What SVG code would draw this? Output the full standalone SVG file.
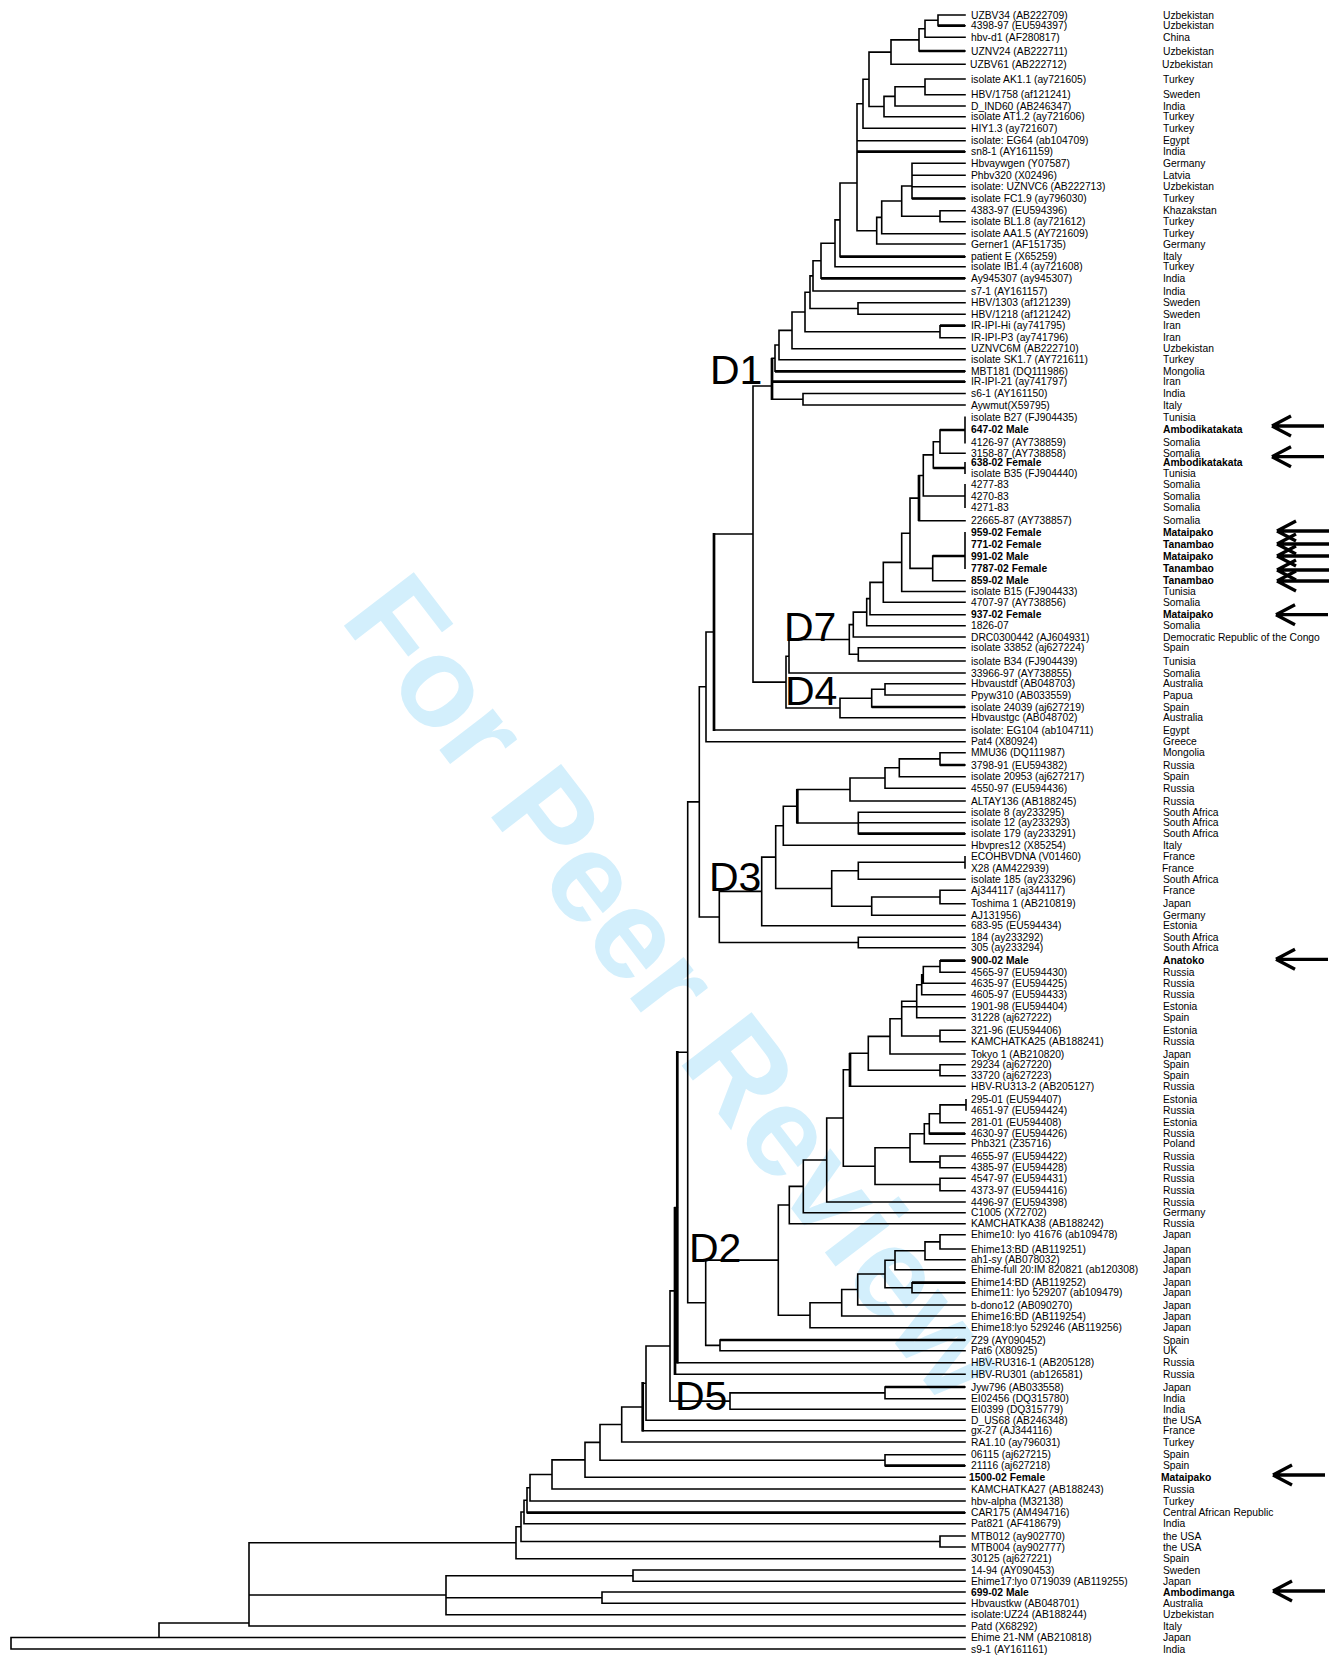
<svg xmlns="http://www.w3.org/2000/svg" xmlns:xlink="http://www.w3.org/1999/xlink" width="1342" height="1663" viewBox="0 0 1342 1663">
<style>
.t{font-family:"Liberation Sans",Arial,sans-serif;font-size:10.3px;fill:#000}
.b{font-weight:bold}
.cl{font-family:"Liberation Sans",Arial,sans-serif;font-size:41px;fill:#000}
.wm{font-family:"Liberation Sans",Arial,sans-serif;font-size:128px;font-weight:bold;fill:#d3effc}
.ln{fill:none;stroke:#000;stroke-width:1.6;stroke-linecap:square}
.tk{fill:none;stroke:#000;stroke-width:2.7;stroke-linecap:butt}
.ar{fill:none;stroke:#000;stroke-width:3.3}
</style>
<defs>
<path id="arr" d="M0 0L19 -10M0 0L19 10M0 0H52"/>
</defs>
<rect width="1342" height="1663" fill="#fff"/>
<text class="wm" text-anchor="middle" transform="translate(642,1014) rotate(52.5)">For Peer Review</text>
<g id="connectors">
<path class="ln" d="M938 15V25.7M938 15H965M938 25.7H965
M925 20.3V37.3M925 20.3H938M925 37.3H965
M919 28.8V51M919 28.8H925M919 51H965
M891 39.9V64.3M891 39.9H919M891 64.3H965
M925 79V94.7M925 79H965M925 94.7H965
M895 86.8V106M895 86.8H925M895 106H965
M884 96.4V116.7M884 96.4H895M884 116.7H965
M869 52.1V106.5M869 52.1H891M869 106.5H884
M863 79.3V128.3M863 79.3H869M863 128.3H965
M912 163.3V198.5M912 163.3H965M912 175.3H965M912 186.7H965M912 198.5H965
M940 210.7V221.7M940 210.7H965M940 221.7H965
M901.7 186V216.2M901.7 186H912M901.7 216.2H940
M881.7 201V233.7M881.7 201H901.7M881.7 233.7H965
M876.7 217.4V244M876.7 217.4H881.7M876.7 244H965
M857 103.8V230.7M857 103.8H863M857 140.7H965M857 151.7H965M857 230.7H876.7
M840 183V256.7M840 183H857M840 256.7H965
M835 219.9V266.7M835 219.9H840M835 266.7H965
M821 243.3V278.3M821 243.3H835M821 278.3H965
M813 260.8V291M813 260.8H821M813 291H965
M858 302.7V314.3M858 302.7H965M858 314.3H965
M810 275.9V308.5M810 275.9H813M810 308.5H858
M940 325.7V337.7M940 325.7H965M940 337.7H965
M805 292.2V331.7M805 292.2H810M805 331.7H940
M792 312V348.7M792 312H805M792 348.7H965
M779 330.4V359.7M779 330.4H792M779 359.7H965
M775 345V371.3M775 345H779M775 371.3H965
M803 393.5V405M803 393.5H965M803 405H965
M772 358.2V399.3M772 358.2H775M772 381.7H965M772 399.3H803
M753 386V682.1M753 386H772M753 682.1H786
M965 417.3V442.7M940 430H965
M940 430V453.3M940 453.3H965
M933.3 441.7V468M933.3 441.7H940M933.3 468H965M965 462.7V473.3
M965 484.7V507.3
M923.3 454.9V496M923.3 454.9H933.3M923.3 496H965
M919 475.5V520.7M919 475.5H923.3M919 520.7H965
M965 532.7V568.3
M932.7 556V580.7M932.7 556H965M932.7 580.7H965
M910 498.1V568.4M910 498.1H919M910 568.4H932.7
M901.7 533.2V591.5M901.7 533.2H910M901.7 591.5H965
M883.3 562.4V602.3M883.3 562.4H901.7M883.3 602.3H965
M870 582.4V614.7M870 582.4H883.3M870 614.7H965
M866.7 598.6V625.7M866.7 598.6H870M866.7 625.7H965
M853.3 612.1V637M853.3 612.1H866.7M853.3 637H965
M858.3 647.7V661M858.3 647.7H965M858.3 661H965
M849.3 624.6V654.3M849.3 624.6H853.3M849.3 654.3H858.3
M789 639.5V673M789 639.5H849.3M789 673H965
M885 683.7V695M885 683.7H965M885 695H965
M871.7 689.3V707M871.7 689.3H885M871.7 707H965
M840 698.2V717.7M840 698.2H871.7M840 717.7H965
M786 656.2V708M786 656.2H789M786 708H840
M714 534V730M714 534H753M714 730H965
M706 632V741.7M706 632H714M706 741.7H965
M940 752.7V765M940 752.7H965M940 765H965
M899.3 758.9V776.7M899.3 758.9H940M899.3 776.7H965
M885 767.8V788.3M885 767.8H899.3M885 788.3H965
M850 778V801M850 778H885M850 801H965
M858.3 812.3V833.7M858.3 812.3H965M858.3 822.7H965M858.3 833.7H965
M797.3 789.5V823M797.3 789.5H850M797.3 823H858.3
M783.3 806.2V845.3M783.3 806.2H797.3M783.3 845.3H965
M965 856.7V868M858.3 862.3H965
M858.3 862.3V879.3M858.3 879.3H965
M940 890.3V903.7M940 890.3H965M940 903.7H965
M871.7 897V915.3M871.7 897H940M871.7 915.3H965
M831.7 870.8V906.2M831.7 870.8H858.3M831.7 906.2H871.7
M775.7 825.8V888.5M775.7 825.8H783.3M775.7 888.5H831.7
M761.7 857.1V925.7M761.7 857.1H775.7M761.7 925.7H965
M858.3 937.3V947.7M858.3 937.3H965M858.3 947.7H965
M719.3 891.4V942.5M719.3 891.4H761.7M719.3 942.5H858.3
M699.3 686.8V917M699.3 686.8H706M699.3 917H719.3
M940 960.7V972.3M940 960.7H965M940 972.3H965
M923.3 966.5V983.3M923.3 966.5H940M923.3 983.3H965
M921.7 974.9V994.7M921.7 974.9H923.3M921.7 994.7H965
M916.7 984.8V1017.7M916.7 984.8H921.7M916.7 1017.7H965
M940 1030.3V1041.7M940 1030.3H965M940 1041.7H965
M901.7 1001.3V1036M901.7 1001.3H916.7M901.7 1006.7H965M901.7 1036H940
M890 1018.7V1054M890 1018.7H901.7M890 1054H965
M940 1064.7V1075.7M940 1064.7H965M940 1075.7H965
M868.3 1036.4V1070.2M868.3 1036.4H890M868.3 1070.2H940
M850 1053.3V1086.3M850 1053.3H868.3M850 1086.3H965
M966 1099.7V1110M940 1104.9H966
M940 1104.9V1122.7M940 1122.7H965
M929.3 1113.8V1133.7M929.3 1113.8H940M929.3 1133.7H965
M924.3 1123.8V1143.7M924.3 1123.8H929.3M924.3 1143.7H965
M940 1156V1167.7M940 1156H965M940 1167.7H965
M910 1133.8V1161.9M910 1133.8H924.3M910 1161.9H940
M940 1178.3V1190.7M940 1178.3H965M940 1190.7H965
M875 1147.8V1184.5M875 1147.8H910M875 1184.5H940
M843.3 1069.8V1166.2M843.3 1069.8H850M843.3 1166.2H875
M826.7 1118V1202M826.7 1118H843.3M826.7 1202H965
M803.3 1160V1212.7M803.3 1160H826.7M803.3 1212.7H965
M789.3 1186.4V1223.7M789.3 1186.4H803.3M789.3 1223.7H965
M940 1234.7V1249M940 1234.7H965M940 1249H965
M925 1241.9V1259.7M925 1241.9H940M925 1259.7H965
M895 1250.8V1269.7M895 1250.8H925M895 1269.7H965
M912 1282.7V1292.7M912 1282.7H965M912 1292.7H965
M885 1260.3V1287.7M885 1260.3H895M885 1287.7H912
M857.7 1274V1305M857.7 1274H885M857.7 1305H965
M841.7 1289.5V1316M841.7 1289.5H857.7M841.7 1316H965
M810 1302.8V1327.7M810 1302.8H841.7M810 1327.7H965
M778.3 1205V1315.2M778.3 1205H789.3M778.3 1315.2H810
M720 1340V1350.7M720 1340H965M720 1350.7H965
M705.7 1260.1V1345.4M705.7 1260.1H778.3M705.7 1345.4H720
M687.7 801.9V1302.8M687.7 801.9H699.3M687.7 1302.8H705.7
M677.3 1052.3H687.7M677.3 1362.7H965
M675 1207.5H677.3M675 1374.3H965
M885 1387V1398.7M885 1387H965M885 1398.7H965
M730 1392.9V1409.3M730 1392.9H885M730 1409.3H965
M670 1290.9V1401.1M670 1290.9H675M670 1401.1H730
M646 1346V1420.3M646 1346H670M646 1420.3H965
M642.7 1383.2H646M642.7 1430.7H965
M621.7 1407V1442M621.7 1407H642.7M621.7 1442H965
M885 1454.7V1465.7M885 1454.7H965M885 1465.7H965
M600 1424.5V1460.2M600 1424.5H621.7M600 1460.2H885
M585 1442.4V1477.3M585 1442.4H600M585 1477.3H965
M552 1459.9V1489M552 1459.9H585M552 1489H965
M530 1474.5V1501M530 1474.5H552M530 1501H965
M527 1487.8V1512.7M527 1487.8H530M527 1512.7H965
M524 1500.3V1523.7M524 1500.3H527M524 1523.7H965
M940 1536V1547M940 1536H965M940 1547H965
M521 1512V1541.5M521 1512H524M521 1541.5H940
M516 1526.8V1558.7M516 1526.8H521M516 1558.7H965
M633 1570V1581.3M633 1570H965M633 1581.3H965
M602 1592V1603.3M602 1592H965M602 1603.3H965
M446 1575.7V1614.7M446 1575.7H633M446 1597.7H602M446 1614.7H965
M249 1542.8V1626M249 1542.8H516M249 1595H446M249 1626H965
M159 1623V1637.5M159 1623H249M159 1637.5H965
M11 1637.5V1649M11 1637.5H159M11 1649H965"/>
<path class="tk" d="M919 51H965M938 25.7H965M912 198.5H965M857 151.7H965M840 256.7H965M821 278.3H965M940 325.7H965M775 371.3H965M772 381.7H965M772 358V400M940 430H965M933.3 468H965M932.7 556H965M871.7 707H965M858.3 833.7H965M940 765H965M797.3 789V823.5M940 960.7H965M929.3 1133.7H965M912 1282.7H965M720 1340H965M885 1465.7H965M527 1512.7H965M885 1387H965M714 533V731M677.3 1051V1363.5M675 1207V1375M642.7 1382V1431.5M850 1053V1087M919 475V521"/>
</g>
<g id="clades">
<text class="cl" x="710" y="384">D1</text>
<text class="cl" x="784" y="641">D7</text>
<text class="cl" x="785" y="705">D4</text>
<text class="cl" x="709" y="891">D3</text>
<text class="cl" x="689" y="1262">D2</text>
<text class="cl" x="675" y="1410">D5</text>
</g>
<g id="arrows" class="ar">
<use xlink:href="#arr" transform="translate(1272,426)"/>
<use xlink:href="#arr" transform="translate(1272,456.7)"/>
<use xlink:href="#arr" transform="translate(1277,531)"/>
<use xlink:href="#arr" transform="translate(1277,544)"/>
<use xlink:href="#arr" transform="translate(1277,556)"/>
<use xlink:href="#arr" transform="translate(1277,570)"/>
<use xlink:href="#arr" transform="translate(1277,581)"/>
<use xlink:href="#arr" transform="translate(1276,614.7)"/>
<use xlink:href="#arr" transform="translate(1276,959.3)"/>
<use xlink:href="#arr" transform="translate(1273,1475)"/>
<use xlink:href="#arr" transform="translate(1273,1591)"/>
</g>
<g id="leaves" class="t">
<g id="leaf1"><text x="971" y="18.6">UZBV34 (AB222709)</text><text x="1163" y="18.6">Uzbekistan</text></g>
<g id="leaf2"><text x="971" y="29.3">4398-97 (EU594397)</text><text x="1163" y="29.3">Uzbekistan</text></g>
<g id="leaf3"><text x="971" y="40.9">hbv-d1 (AF280817)</text><text x="1163" y="40.9">China</text></g>
<g id="leaf4"><text x="971" y="54.6">UZNV24 (AB222711)</text><text x="1163" y="54.6">Uzbekistan</text></g>
<g id="leaf5"><text x="970" y="67.9">UZBV61 (AB222712)</text><text x="1162" y="67.9">Uzbekistan</text></g>
<g id="leaf6"><text x="971" y="82.6">isolate AK1.1 (ay721605)</text><text x="1163" y="82.6">Turkey</text></g>
<g id="leaf7"><text x="971" y="98.3">HBV/1758 (af121241)</text><text x="1163" y="98.3">Sweden</text></g>
<g id="leaf8"><text x="971" y="109.6">D_IND60 (AB246347)</text><text x="1163" y="109.6">India</text></g>
<g id="leaf9"><text x="971" y="120.3">isolate AT1.2 (ay721606)</text><text x="1163" y="120.3">Turkey</text></g>
<g id="leaf10"><text x="971" y="131.9">HIY1.3 (ay721607)</text><text x="1163" y="131.9">Turkey</text></g>
<g id="leaf11"><text x="971" y="144.3">isolate: EG64 (ab104709)</text><text x="1163" y="144.3">Egypt</text></g>
<g id="leaf12"><text x="971" y="155.3">sn8-1 (AY161159)</text><text x="1163" y="155.3">India</text></g>
<g id="leaf13"><text x="971" y="166.9">Hbvaywgen (Y07587)</text><text x="1163" y="166.9">Germany</text></g>
<g id="leaf14"><text x="971" y="178.9">Phbv320 (X02496)</text><text x="1163" y="178.9">Latvia</text></g>
<g id="leaf15"><text x="971" y="190.3">isolate: UZNVC6 (AB222713)</text><text x="1163" y="190.3">Uzbekistan</text></g>
<g id="leaf16"><text x="971" y="202.1">isolate FC1.9 (ay796030)</text><text x="1163" y="202.1">Turkey</text></g>
<g id="leaf17"><text x="971" y="214.3">4383-97 (EU594396)</text><text x="1163" y="214.3">Khazakstan</text></g>
<g id="leaf18"><text x="971" y="225.3">isolate BL1.8 (ay721612)</text><text x="1163" y="225.3">Turkey</text></g>
<g id="leaf19"><text x="971" y="237.3">isolate AA1.5 (AY721609)</text><text x="1163" y="237.3">Turkey</text></g>
<g id="leaf20"><text x="971" y="247.6">Gerner1 (AF151735)</text><text x="1163" y="247.6">Germany</text></g>
<g id="leaf21"><text x="971" y="260.3">patient E (X65259)</text><text x="1163" y="260.3">Italy</text></g>
<g id="leaf22"><text x="971" y="270.3">isolate IB1.4 (ay721608)</text><text x="1163" y="270.3">Turkey</text></g>
<g id="leaf23"><text x="971" y="281.9">Ay945307 (ay945307)</text><text x="1163" y="281.9">India</text></g>
<g id="leaf24"><text x="971" y="294.6">s7-1 (AY161157)</text><text x="1163" y="294.6">India</text></g>
<g id="leaf25"><text x="971" y="306.3">HBV/1303 (af121239)</text><text x="1163" y="306.3">Sweden</text></g>
<g id="leaf26"><text x="971" y="317.9">HBV/1218 (af121242)</text><text x="1163" y="317.9">Sweden</text></g>
<g id="leaf27"><text x="971" y="329.3">IR-IPI-Hi (ay741795)</text><text x="1163" y="329.3">Iran</text></g>
<g id="leaf28"><text x="971" y="341.3">IR-IPI-P3 (ay741796)</text><text x="1163" y="341.3">Iran</text></g>
<g id="leaf29"><text x="971" y="352.3">UZNVC6M (AB222710)</text><text x="1163" y="352.3">Uzbekistan</text></g>
<g id="leaf30"><text x="971" y="363.3">isolate SK1.7 (AY721611)</text><text x="1163" y="363.3">Turkey</text></g>
<g id="leaf31"><text x="971" y="374.9">MBT181 (DQ111986)</text><text x="1163" y="374.9">Mongolia</text></g>
<g id="leaf32"><text x="971" y="385.3">IR-IPI-21 (ay741797)</text><text x="1163" y="385.3">Iran</text></g>
<g id="leaf33"><text x="971" y="397.1">s6-1 (AY161150)</text><text x="1163" y="397.1">India</text></g>
<g id="leaf34"><text x="971" y="408.6">Aywmut(X59795)</text><text x="1163" y="408.6">Italy</text></g>
<g id="leaf35"><text x="971" y="420.9">isolate B27 (FJ904435)</text><text x="1163" y="420.9">Tunisia</text></g>
<g id="leaf36" class="b"><text x="971" y="432.9">647-02 Male</text><text x="1163" y="432.9">Ambodikatakata</text></g>
<g id="leaf37"><text x="971" y="446.3">4126-97 (AY738859)</text><text x="1163" y="446.3">Somalia</text></g>
<g id="leaf38"><text x="971" y="456.9">3158-87 (AY738858)</text><text x="1163" y="456.9">Somalia</text></g>
<g id="leaf39" class="b"><text x="971" y="466.3">638-02 Female</text><text x="1163" y="466.3">Ambodikatakata</text></g>
<g id="leaf40"><text x="971" y="476.9">isolate B35 (FJ904440)</text><text x="1163" y="476.9">Tunisia</text></g>
<g id="leaf41"><text x="971" y="488.3">4277-83</text><text x="1163" y="488.3">Somalia</text></g>
<g id="leaf42"><text x="971" y="499.6">4270-83</text><text x="1163" y="499.6">Somalia</text></g>
<g id="leaf43"><text x="971" y="510.9">4271-83</text><text x="1163" y="510.9">Somalia</text></g>
<g id="leaf44"><text x="971" y="524.3">22665-87 (AY738857)</text><text x="1163" y="524.3">Somalia</text></g>
<g id="leaf45" class="b"><text x="971" y="536.3">959-02 Female</text><text x="1163" y="536.3">Mataipako</text></g>
<g id="leaf46" class="b"><text x="971" y="548.3">771-02 Female</text><text x="1163" y="548.3">Tanambao</text></g>
<g id="leaf47" class="b"><text x="971" y="559.6">991-02 Male</text><text x="1163" y="559.6">Mataipako</text></g>
<g id="leaf48" class="b"><text x="971" y="571.9">7787-02 Female</text><text x="1163" y="571.9">Tanambao</text></g>
<g id="leaf49" class="b"><text x="971" y="584.3">859-02 Male</text><text x="1163" y="584.3">Tanambao</text></g>
<g id="leaf50"><text x="971" y="595.1">isolate B15 (FJ904433)</text><text x="1163" y="595.1">Tunisia</text></g>
<g id="leaf51"><text x="971" y="605.9">4707-97 (AY738856)</text><text x="1163" y="605.9">Somalia</text></g>
<g id="leaf52" class="b"><text x="971" y="618.3">937-02 Female</text><text x="1163" y="618.3">Mataipako</text></g>
<g id="leaf53"><text x="971" y="629.3">1826-07</text><text x="1163" y="629.3">Somalia</text></g>
<g id="leaf54"><text x="971" y="640.6">DRC0300442 (AJ604931)</text><text x="1163" y="640.6">Democratic Republic of the Congo</text></g>
<g id="leaf55"><text x="971" y="651.3">isolate 33852 (aj627224)</text><text x="1163" y="651.3">Spain</text></g>
<g id="leaf56"><text x="971" y="664.6">isolate B34 (FJ904439)</text><text x="1163" y="664.6">Tunisia</text></g>
<g id="leaf57"><text x="971" y="676.6">33966-97 (AY738855)</text><text x="1163" y="676.6">Somalia</text></g>
<g id="leaf58"><text x="971" y="687.3">Hbvaustdf (AB048703)</text><text x="1163" y="687.3">Australia</text></g>
<g id="leaf59"><text x="971" y="698.6">Ppyw310 (AB033559)</text><text x="1163" y="698.6">Papua</text></g>
<g id="leaf60"><text x="971" y="710.6">isolate 24039 (aj627219)</text><text x="1163" y="710.6">Spain</text></g>
<g id="leaf61"><text x="971" y="721.3">Hbvaustgc (AB048702)</text><text x="1163" y="721.3">Australia</text></g>
<g id="leaf62"><text x="971" y="733.6">isolate: EG104 (ab104711)</text><text x="1163" y="733.6">Egypt</text></g>
<g id="leaf63"><text x="971" y="745.3">Pat4 (X80924)</text><text x="1163" y="745.3">Greece</text></g>
<g id="leaf64"><text x="971" y="756.3">MMU36 (DQ111987)</text><text x="1163" y="756.3">Mongolia</text></g>
<g id="leaf65"><text x="971" y="768.6">3798-91 (EU594382)</text><text x="1163" y="768.6">Russia</text></g>
<g id="leaf66"><text x="971" y="780.3">isolate 20953 (aj627217)</text><text x="1163" y="780.3">Spain</text></g>
<g id="leaf67"><text x="971" y="791.9">4550-97 (EU594436)</text><text x="1163" y="791.9">Russia</text></g>
<g id="leaf68"><text x="971" y="804.6">ALTAY136 (AB188245)</text><text x="1163" y="804.6">Russia</text></g>
<g id="leaf69"><text x="971" y="815.9">isolate 8 (ay233295)</text><text x="1163" y="815.9">South Africa</text></g>
<g id="leaf70"><text x="971" y="826.3">isolate 12 (ay233293)</text><text x="1163" y="826.3">South Africa</text></g>
<g id="leaf71"><text x="971" y="837.3">isolate 179 (ay233291)</text><text x="1163" y="837.3">South Africa</text></g>
<g id="leaf72"><text x="971" y="848.9">Hbvpres12 (X85254)</text><text x="1163" y="848.9">Italy</text></g>
<g id="leaf73"><text x="971" y="860.3">ECOHBVDNA (V01460)</text><text x="1163" y="860.3">France</text></g>
<g id="leaf74"><text x="971" y="871.6">X28 (AM422939)</text><text x="1162" y="871.6">France</text></g>
<g id="leaf75"><text x="971" y="882.9">isolate 185 (ay233296)</text><text x="1163" y="882.9">South Africa</text></g>
<g id="leaf76"><text x="971" y="893.9">Aj344117 (aj344117)</text><text x="1163" y="893.9">France</text></g>
<g id="leaf77"><text x="971" y="907.3">Toshima 1 (AB210819)</text><text x="1163" y="907.3">Japan</text></g>
<g id="leaf78"><text x="971" y="918.9">AJ131956)</text><text x="1163" y="918.9">Germany</text></g>
<g id="leaf79"><text x="971" y="929.3">683-95 (EU594434)</text><text x="1163" y="929.3">Estonia</text></g>
<g id="leaf80"><text x="971" y="940.9">184 (ay233292)</text><text x="1163" y="940.9">South Africa</text></g>
<g id="leaf81"><text x="971" y="951.3">305 (ay233294)</text><text x="1163" y="951.3">South Africa</text></g>
<g id="leaf82" class="b"><text x="971" y="964.3">900-02 Male</text><text x="1163" y="964.3">Anatoko</text></g>
<g id="leaf83"><text x="971" y="975.9">4565-97 (EU594430)</text><text x="1163" y="975.9">Russia</text></g>
<g id="leaf84"><text x="971" y="986.9">4635-97 (EU594425)</text><text x="1163" y="986.9">Russia</text></g>
<g id="leaf85"><text x="971" y="998.3">4605-97 (EU594433)</text><text x="1163" y="998.3">Russia</text></g>
<g id="leaf86"><text x="971" y="1010.3">1901-98 (EU594404)</text><text x="1163" y="1010.3">Estonia</text></g>
<g id="leaf87"><text x="971" y="1021.3">31228 (aj627222)</text><text x="1163" y="1021.3">Spain</text></g>
<g id="leaf88"><text x="971" y="1033.9">321-96 (EU594406)</text><text x="1163" y="1033.9">Estonia</text></g>
<g id="leaf89"><text x="971" y="1045.3">KAMCHATKA25 (AB188241)</text><text x="1163" y="1045.3">Russia</text></g>
<g id="leaf90"><text x="971" y="1057.6">Tokyo 1 (AB210820)</text><text x="1163" y="1057.6">Japan</text></g>
<g id="leaf91"><text x="971" y="1068.3">29234 (aj627220)</text><text x="1163" y="1068.3">Spain</text></g>
<g id="leaf92"><text x="971" y="1079.3">33720 (aj627223)</text><text x="1163" y="1079.3">Spain</text></g>
<g id="leaf93"><text x="971" y="1089.9">HBV-RU313-2 (AB205127)</text><text x="1163" y="1089.9">Russia</text></g>
<g id="leaf94"><text x="971" y="1103.3">295-01 (EU594407)</text><text x="1163" y="1103.3">Estonia</text></g>
<g id="leaf95"><text x="971" y="1113.6">4651-97 (EU594424)</text><text x="1163" y="1113.6">Russia</text></g>
<g id="leaf96"><text x="971" y="1126.3">281-01 (EU594408)</text><text x="1163" y="1126.3">Estonia</text></g>
<g id="leaf97"><text x="971" y="1137.3">4630-97 (EU594426)</text><text x="1163" y="1137.3">Russia</text></g>
<g id="leaf98"><text x="971" y="1147.3">Phb321 (Z35716)</text><text x="1163" y="1147.3">Poland</text></g>
<g id="leaf99"><text x="971" y="1159.6">4655-97 (EU594422)</text><text x="1163" y="1159.6">Russia</text></g>
<g id="leaf100"><text x="971" y="1171.3">4385-97 (EU594428)</text><text x="1163" y="1171.3">Russia</text></g>
<g id="leaf101"><text x="971" y="1181.9">4547-97 (EU594431)</text><text x="1163" y="1181.9">Russia</text></g>
<g id="leaf102"><text x="971" y="1194.3">4373-97 (EU594416)</text><text x="1163" y="1194.3">Russia</text></g>
<g id="leaf103"><text x="971" y="1205.6">4496-97 (EU594398)</text><text x="1163" y="1205.6">Russia</text></g>
<g id="leaf104"><text x="971" y="1216.3">C1005 (X72702)</text><text x="1163" y="1216.3">Germany</text></g>
<g id="leaf105"><text x="971" y="1227.3">KAMCHATKA38 (AB188242)</text><text x="1163" y="1227.3">Russia</text></g>
<g id="leaf106"><text x="971" y="1238.3">Ehime10: lyo 41676 (ab109478)</text><text x="1163" y="1238.3">Japan</text></g>
<g id="leaf107"><text x="971" y="1252.6">Ehime13:BD (AB119251)</text><text x="1163" y="1252.6">Japan</text></g>
<g id="leaf108"><text x="971" y="1263.3">ah1-sy (AB078032)</text><text x="1163" y="1263.3">Japan</text></g>
<g id="leaf109"><text x="971" y="1273.3">Ehime-full 20:IM 820821 (ab120308)</text><text x="1163" y="1273.3">Japan</text></g>
<g id="leaf110"><text x="971" y="1286.3">Ehime14:BD (AB119252)</text><text x="1163" y="1286.3">Japan</text></g>
<g id="leaf111"><text x="971" y="1296.3">Ehime11: lyo 529207 (ab109479)</text><text x="1163" y="1296.3">Japan</text></g>
<g id="leaf112"><text x="971" y="1308.6">b-dono12 (AB090270)</text><text x="1163" y="1308.6">Japan</text></g>
<g id="leaf113"><text x="971" y="1319.6">Ehime16:BD (AB119254)</text><text x="1163" y="1319.6">Japan</text></g>
<g id="leaf114"><text x="971" y="1331.3">Ehime18:lyo 529246 (AB119256)</text><text x="1163" y="1331.3">Japan</text></g>
<g id="leaf115"><text x="971" y="1343.6">Z29 (AY090452)</text><text x="1163" y="1343.6">Spain</text></g>
<g id="leaf116"><text x="971" y="1354.3">Pat6 (X80925)</text><text x="1163" y="1354.3">UK</text></g>
<g id="leaf117"><text x="971" y="1366.3">HBV-RU316-1 (AB205128)</text><text x="1163" y="1366.3">Russia</text></g>
<g id="leaf118"><text x="971" y="1377.9">HBV-RU301 (ab126581)</text><text x="1163" y="1377.9">Russia</text></g>
<g id="leaf119"><text x="971" y="1390.6">Jyw796 (AB033558)</text><text x="1163" y="1390.6">Japan</text></g>
<g id="leaf120"><text x="971" y="1402.3">EI02456 (DQ315780)</text><text x="1163" y="1402.3">India</text></g>
<g id="leaf121"><text x="971" y="1412.9">EI0399 (DQ315779)</text><text x="1163" y="1412.9">India</text></g>
<g id="leaf122"><text x="971" y="1423.9">D_US68 (AB246348)</text><text x="1163" y="1423.9">the USA</text></g>
<g id="leaf123"><text x="971" y="1434.3">gx-27 (AJ344116)</text><text x="1163" y="1434.3">France</text></g>
<g id="leaf124"><text x="971" y="1445.6">RA1.10 (ay796031)</text><text x="1163" y="1445.6">Turkey</text></g>
<g id="leaf125"><text x="971" y="1458.3">06115 (aj627215)</text><text x="1163" y="1458.3">Spain</text></g>
<g id="leaf126"><text x="971" y="1469.3">21116 (aj627218)</text><text x="1163" y="1469.3">Spain</text></g>
<g id="leaf127" class="b"><text x="969" y="1480.9">1500-02 Female</text><text x="1161" y="1480.9">Mataipako</text></g>
<g id="leaf128"><text x="971" y="1492.6">KAMCHATKA27 (AB188243)</text><text x="1163" y="1492.6">Russia</text></g>
<g id="leaf129"><text x="971" y="1504.6">hbv-alpha (M32138)</text><text x="1163" y="1504.6">Turkey</text></g>
<g id="leaf130"><text x="971" y="1516.3">CAR175 (AM494716)</text><text x="1163" y="1516.3">Central African Republic</text></g>
<g id="leaf131"><text x="971" y="1527.3">Pat821 (AF418679)</text><text x="1163" y="1527.3">India</text></g>
<g id="leaf132"><text x="971" y="1539.6">MTB012 (ay902770)</text><text x="1163" y="1539.6">the USA</text></g>
<g id="leaf133"><text x="971" y="1550.6">MTB004 (ay902777)</text><text x="1163" y="1550.6">the USA</text></g>
<g id="leaf134"><text x="971" y="1562.3">30125 (aj627221)</text><text x="1163" y="1562.3">Spain</text></g>
<g id="leaf135"><text x="971" y="1573.6">14-94 (AY090453)</text><text x="1163" y="1573.6">Sweden</text></g>
<g id="leaf136"><text x="971" y="1584.9">Ehime17:lyo 0719039 (AB119255)</text><text x="1163" y="1584.9">Japan</text></g>
<g id="leaf137" class="b"><text x="971" y="1595.6">699-02 Male</text><text x="1163" y="1595.6">Ambodimanga</text></g>
<g id="leaf138"><text x="971" y="1606.9">Hbvaustkw (AB048701)</text><text x="1163" y="1606.9">Australia</text></g>
<g id="leaf139"><text x="971" y="1618.3">isolate:UZ24 (AB188244)</text><text x="1163" y="1618.3">Uzbekistan</text></g>
<g id="leaf140"><text x="971" y="1629.6">Patd (X68292)</text><text x="1163" y="1629.6">Italy</text></g>
<g id="leaf141"><text x="971" y="1641.1">Ehime 21-NM (AB210818)</text><text x="1163" y="1641.1">Japan</text></g>
<g id="leaf142"><text x="971" y="1652.6">s9-1 (AY161161)</text><text x="1163" y="1652.6">India</text></g>
</g>
</svg>
